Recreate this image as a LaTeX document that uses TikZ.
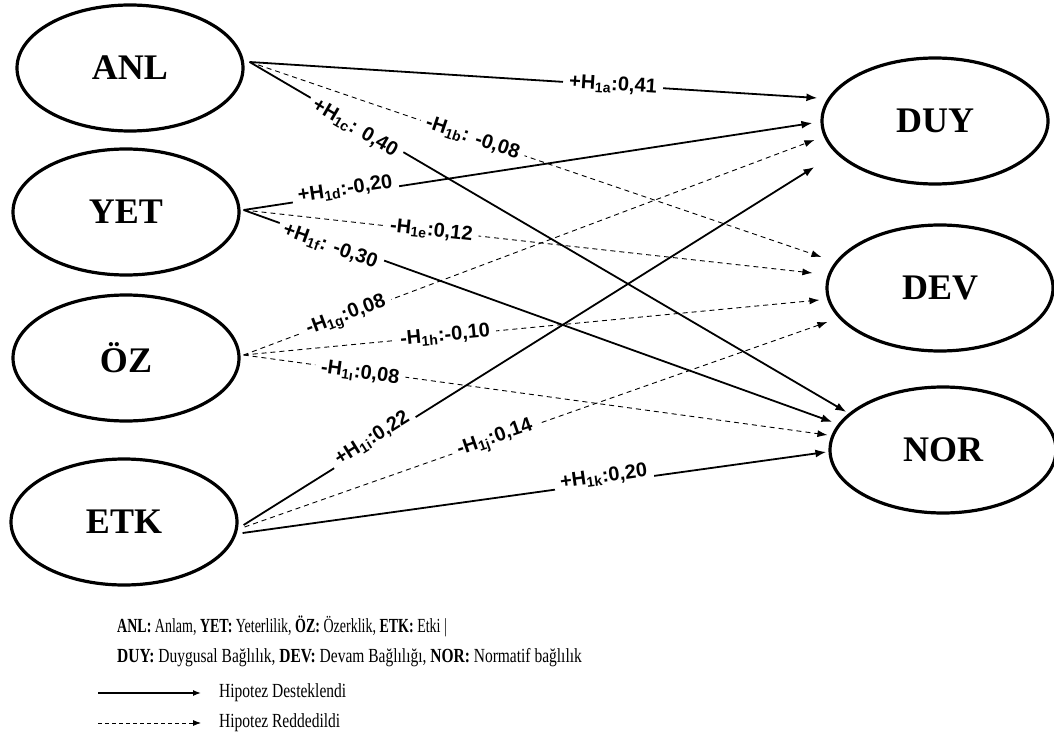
\documentclass[tikz,border=0pt]{standalone}
\usepackage{fontspec}
\setmainfont{Liberation Sans}
\newfontfamily\constructfont{Liberation Serif}
\newfontfamily\legendfont[FakeStretch=0.775]{Liberation Serif}
\newfontfamily\legendnarrow[FakeStretch=0.70]{Liberation Serif}
\usetikzlibrary{arrows.meta,shapes.geometric}

\begin{document}
\begin{tikzpicture}[x=1pt, y=-1pt,  % pixel-like grid, y downwards
  construct/.style={draw, ellipse, line width=3.2pt,
              minimum width=226pt, minimum height=126pt, inner sep=0pt,
              font=\constructfont\bfseries\fontsize{36}{36}\selectfont},
  supported/.style={-{Latex[length=11pt,width=8pt]}, line width=1.8pt},
  rejected/.style={-{Latex[length=10pt,width=7pt]}, line width=0.9pt,
              dash pattern=on 5pt off 4pt},
  coef/.style={sloped, fill=white, inner xsep=6pt, inner ysep=1pt,
              font=\bfseries\fontsize{20}{21}\selectfont},
  legtext/.style={anchor=west, inner sep=0pt,
              font=\legendfont\fontsize{20}{22}\selectfont}
]
\useasboundingbox (0,0) rectangle (1054,738);

% --- Nodes ---
\node[construct] (anl) at (130,68)  {ANL};
\node[construct] (yet) at (126,212) {YET};
\node[construct] (oz)  at (126,358) {ÖZ};
\node[construct] (etk) at (124,522) {ETK};

\node[construct] (duy) at (935,121) {DUY};
\node[construct] (dev) at (940,288) {DEV};
\node[construct] (nor) at (943,450) {NOR};

% --- Paths from ANL ---
\draw[supported] ([xshift=5pt,yshift=6pt]anl.east) -- node[coef, pos=0.64]{+H\textsubscript{1a}:0,41} ([xshift=-3pt,yshift=23pt]duy.west);
\draw[rejected]  ([xshift=5pt,yshift=6pt]anl.east) -- node[coef, pos=0.39]{-H\textsubscript{1b}: -0,08} ([xshift=-4pt,yshift=31pt]dev.west);
\draw[supported] ([xshift=5pt,yshift=6pt]anl.east) -- node[coef, pos=0.18, yshift=-4pt]{+H\textsubscript{1c}: 0,40} ([xshift=18pt,yshift=38pt]nor.west);

% --- Paths from YET ---
\draw[supported] ([xshift=3pt,yshift=2pt]yet.east) -- node[coef, pos=0.18, yshift=5pt]{+H\textsubscript{1d}:-0,20} ([xshift=-8pt,yshift=-2pt]duy.west);
\draw[rejected]  ([xshift=3pt,yshift=2pt]yet.east) -- node[coef, pos=0.33]{-H\textsubscript{1e}:0,12} ([xshift=-13pt,yshift=15pt]dev.west);
\draw[supported] ([xshift=3pt,yshift=2pt]yet.east) -- node[coef, pos=0.15, yshift=-5pt]{+H\textsubscript{1f}: -0,30} ([xshift=4pt,yshift=28pt]nor.west);

% --- Paths from ÖZ ---
\draw[rejected] ([xshift=3pt,yshift=3pt]oz.east) -- node[coef, pos=0.18]{-H\textsubscript{1g}:0,08} ([xshift=-6pt,yshift=-19pt]duy.west);
\draw[rejected] ([xshift=3pt,yshift=3pt]oz.east) -- node[coef, pos=0.35]{-H\textsubscript{1h}:-0,10} ([xshift=-6pt,yshift=-12pt]dev.west);
\draw[rejected] ([xshift=3pt,yshift=3pt]oz.east) -- node[coef, pos=0.2, yshift=-2pt]{-H\textsubscript{1ı}:0,08} ([xshift=-1pt,yshift=15pt]nor.west);

% --- Paths from ETK ---
\draw[supported] ([xshift=5pt,yshift=-3pt]etk.east) -- node[coef, pos=0.23, yshift=5pt]{+H\textsubscript{1i}:0,22} ([xshift=-6pt,yshift=-46pt]duy.west);
\draw[rejected]  ([xshift=6pt,yshift=-5pt]etk.east) -- node[coef, pos=0.43]{-H\textsubscript{1j}:0,14} ([xshift=2pt,yshift=-34pt]dev.west);
\draw[supported] ([xshift=4pt,yshift=-11pt]etk.east) -- node[coef, pos=0.62, yshift=6pt]{+H\textsubscript{1k}:0,20} ([xshift=-2pt,yshift=-2pt]nor.west);

% --- Legend ---
\node[legtext, font=\legendnarrow\fontsize{20}{22}\selectfont] (key1) at (117,626) {\bfseries ANL: \mdseries Anlam, \bfseries YET: \mdseries Yeterlilik, \bfseries ÖZ: \mdseries Özerklik, \bfseries ETK: \mdseries Etki |};
\node[legtext] (key2) at (117,658) {\bfseries DUY: \mdseries Duygusal Bağlılık, \bfseries DEV: \mdseries Devam Bağlılığı, \bfseries NOR: \mdseries Normatif bağlılık};

\coordinate (sol-a) at (98,693);
\coordinate (sol-b) at (201,693);
\coordinate (das-a) at (98,723);
\coordinate (das-b) at (201,723);
\draw[-{Latex[length=8pt,width=6pt]}, line width=1.3pt] (sol-a) -- (sol-b);
\draw[-{Latex[length=8pt,width=6pt]}, line width=0.8pt, dash pattern=on 4pt off 3pt] (das-a) -- (das-b);
\node[legtext] (key3) at (219,693) {Hipotez Desteklendi};
\node[legtext] (key4) at (219,723) {Hipotez Reddedildi};

\end{tikzpicture}
\end{document}
